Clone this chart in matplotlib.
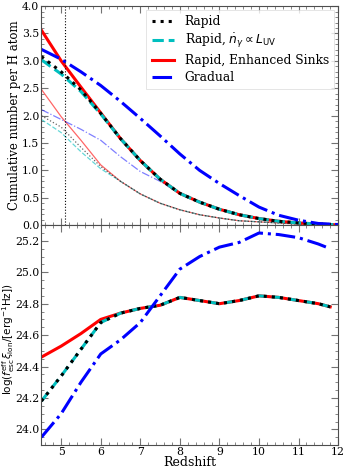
import matplotlib
matplotlib.use('Agg')
import matplotlib.pyplot as plt
from matplotlib.ticker import AutoMinorLocator, MultipleLocator

plt.rcParams['font.family'] = 'DejaVu Serif'
plt.rcParams['mathtext.fontset'] = 'dejavusans'
plt.rcParams['font.size'] = 8.5

# top panel: cumulative ionizing photons per H atom
z_top = [4.5, 5.0, 5.5, 6.0, 6.5, 7.0, 7.5, 8.0, 8.5, 9.0, 9.5, 10.0, 10.5, 11.0, 11.5, 12.0]
rapid = [3.08, 2.80, 2.47, 2.04, 1.58, 1.18, 0.84, 0.58, 0.42, 0.29, 0.19, 0.12, 0.07, 0.04, 0.02, 0.005]
rapid_luv = [3.02, 2.76, 2.44, 2.03, 1.58, 1.18, 0.84, 0.58, 0.42, 0.29, 0.19, 0.12, 0.07, 0.04, 0.02, 0.005]
rapid_sinks = [3.56, 3.00, 2.52, 2.05, 1.58, 1.18, 0.84, 0.58, 0.42, 0.29, 0.19, 0.12, 0.07, 0.04, 0.02, 0.005]
gradual = [3.21, 3.03, 2.80, 2.55, 2.26, 1.95, 1.63, 1.30, 1.00, 0.76, 0.54, 0.33, 0.18, 0.09, 0.03, 0.01]

# thin curves
rapid_thin = [2.00, 1.79, 1.42, 1.07, 0.80, 0.57, 0.40, 0.28, 0.19, 0.13, 0.08, 0.06, 0.04, 0.02, 0.01, 0.003]
rapid_luv_thin = [1.93, 1.69, 1.34, 1.03, 0.80, 0.57, 0.40, 0.28, 0.19, 0.13, 0.08, 0.06, 0.04, 0.02, 0.01, 0.003]
rapid_sinks_thin = [2.48, 1.98, 1.55, 1.10, 0.80, 0.57, 0.40, 0.28, 0.19, 0.13, 0.08, 0.06, 0.04, 0.02, 0.01, 0.003]
gradual_thin = [2.11, 1.93, 1.75, 1.55, 1.25, 0.98, 0.80, 0.58, 0.42, 0.29, 0.19, 0.12, 0.07, 0.04, 0.02, 0.005]

z_line = 5.1

# bottom panel: log(f_esc xi_ion)
z_bot = [4.5, 5.0, 5.5, 6.0, 6.5, 7.0, 7.5, 8.0, 8.5, 9.0, 9.5, 10.0, 10.5, 11.0, 11.5, 11.8]
xi_rapid = [24.18, 24.34, 24.51, 24.68, 24.74, 24.77, 24.79, 24.84, 24.82, 24.80, 24.82, 24.85, 24.84, 24.82, 24.80, 24.78]
xi_sinks = [24.46, 24.53, 24.61, 24.70, 24.74, 24.77, 24.79, 24.84, 24.82, 24.80, 24.82, 24.85, 24.84, 24.82, 24.80, 24.78]
xi_gradual = [23.95, 24.10, 24.30, 24.48, 24.57, 24.68, 24.85, 25.02, 25.10, 25.16, 25.19, 25.25, 25.24, 25.22, 25.18, 25.15]

fig = plt.figure(figsize=(3.45, 4.71), dpi=100)
ax1 = fig.add_axes([0.120, 0.522, 0.860, 0.465])
ax2 = fig.add_axes([0.120, 0.055, 0.860, 0.467], sharex=ax1)

lw = 2.2
thin = 0.9
ax1.plot(z_top, rapid_sinks_thin, color='r', lw=thin, alpha=0.6)
ax1.plot(z_top, gradual_thin, color='b', lw=thin, ls='-.', alpha=0.5)
ax1.plot(z_top, rapid_luv_thin, color='c', lw=thin, ls='--', alpha=0.6)
ax1.plot(z_top, rapid_thin, color='k', lw=thin, ls=':', alpha=0.6)

l3, = ax1.plot(z_top, rapid_sinks, color='r', lw=lw, label='Rapid, Enhanced Sinks')
l2, = ax1.plot(z_top, rapid_luv, color='c', lw=lw, ls='--', label=r'Rapid, $\dot{n}_\gamma \propto L_{\rm UV}$')
l1, = ax1.plot(z_top, rapid, color='k', lw=lw, ls=':', label='Rapid')
l4, = ax1.plot(z_top, gradual, color='b', lw=lw, ls='-.', label='Gradual')
ax1.axvline(z_line, color='k', lw=0.8, ls=':')

leg = ax1.legend(handles=[l1, l2, l3, l4], loc='upper right', fontsize=8.8,
                 handlelength=1.8, handletextpad=0.9, borderpad=0.45,
                 labelspacing=0.3, borderaxespad=0.3, fancybox=False)
leg.get_frame().set_edgecolor('0.85')
leg.get_frame().set_linewidth(0.6)

ax1.set_ylim(0, 4.0)
ax1.set_xlim(4.5, 12)
ax1.yaxis.set_major_locator(MultipleLocator(0.5))
ax1.set_ylabel('Cumulative number per H atom', fontsize=8.5)
ax1.yaxis.set_label_coords(-0.070, 0.5)
plt.setp(ax1.get_xticklabels(), visible=False)

ax2.plot(z_bot, xi_sinks, color='r', lw=lw)
ax2.plot(z_bot, xi_rapid, color='c', lw=lw, ls='--')
ax2.plot(z_bot, xi_rapid, color='k', lw=lw, ls=':')
ax2.plot(z_bot, xi_gradual, color='b', lw=lw, ls='-.')
ax2.set_ylim(23.9, 25.3)
ax2.yaxis.set_major_locator(MultipleLocator(0.2))
ax2.xaxis.set_major_locator(MultipleLocator(1))
ax2.set_xlabel('Redshift', fontsize=9, labelpad=-1)
ax2.set_ylabel(r'$\log(f^{\rm eff}_{\rm esc}\xi_{\rm ion}/[\rm erg^{-1}Hz])$', fontsize=7.5)
ax2.yaxis.set_label_coords(-0.082, 0.48)

for ax, nminor_y in [(ax1, 5), (ax2, 4)]:
    ax.xaxis.set_minor_locator(AutoMinorLocator(5))
    ax.yaxis.set_minor_locator(AutoMinorLocator(nminor_y))
    ax.tick_params(which='both', direction='in', top=True, right=True,
                   color='0.45', labelsize=7.8, pad=1.5)
    ax.tick_params(which='major', length=5, width=0.8)
    ax.tick_params(which='minor', length=2.5, width=0.6)
    for s in ax.spines.values():
        s.set_color('0.3')
        s.set_linewidth(0.8)

fig.savefig('out.png', dpi=100)
